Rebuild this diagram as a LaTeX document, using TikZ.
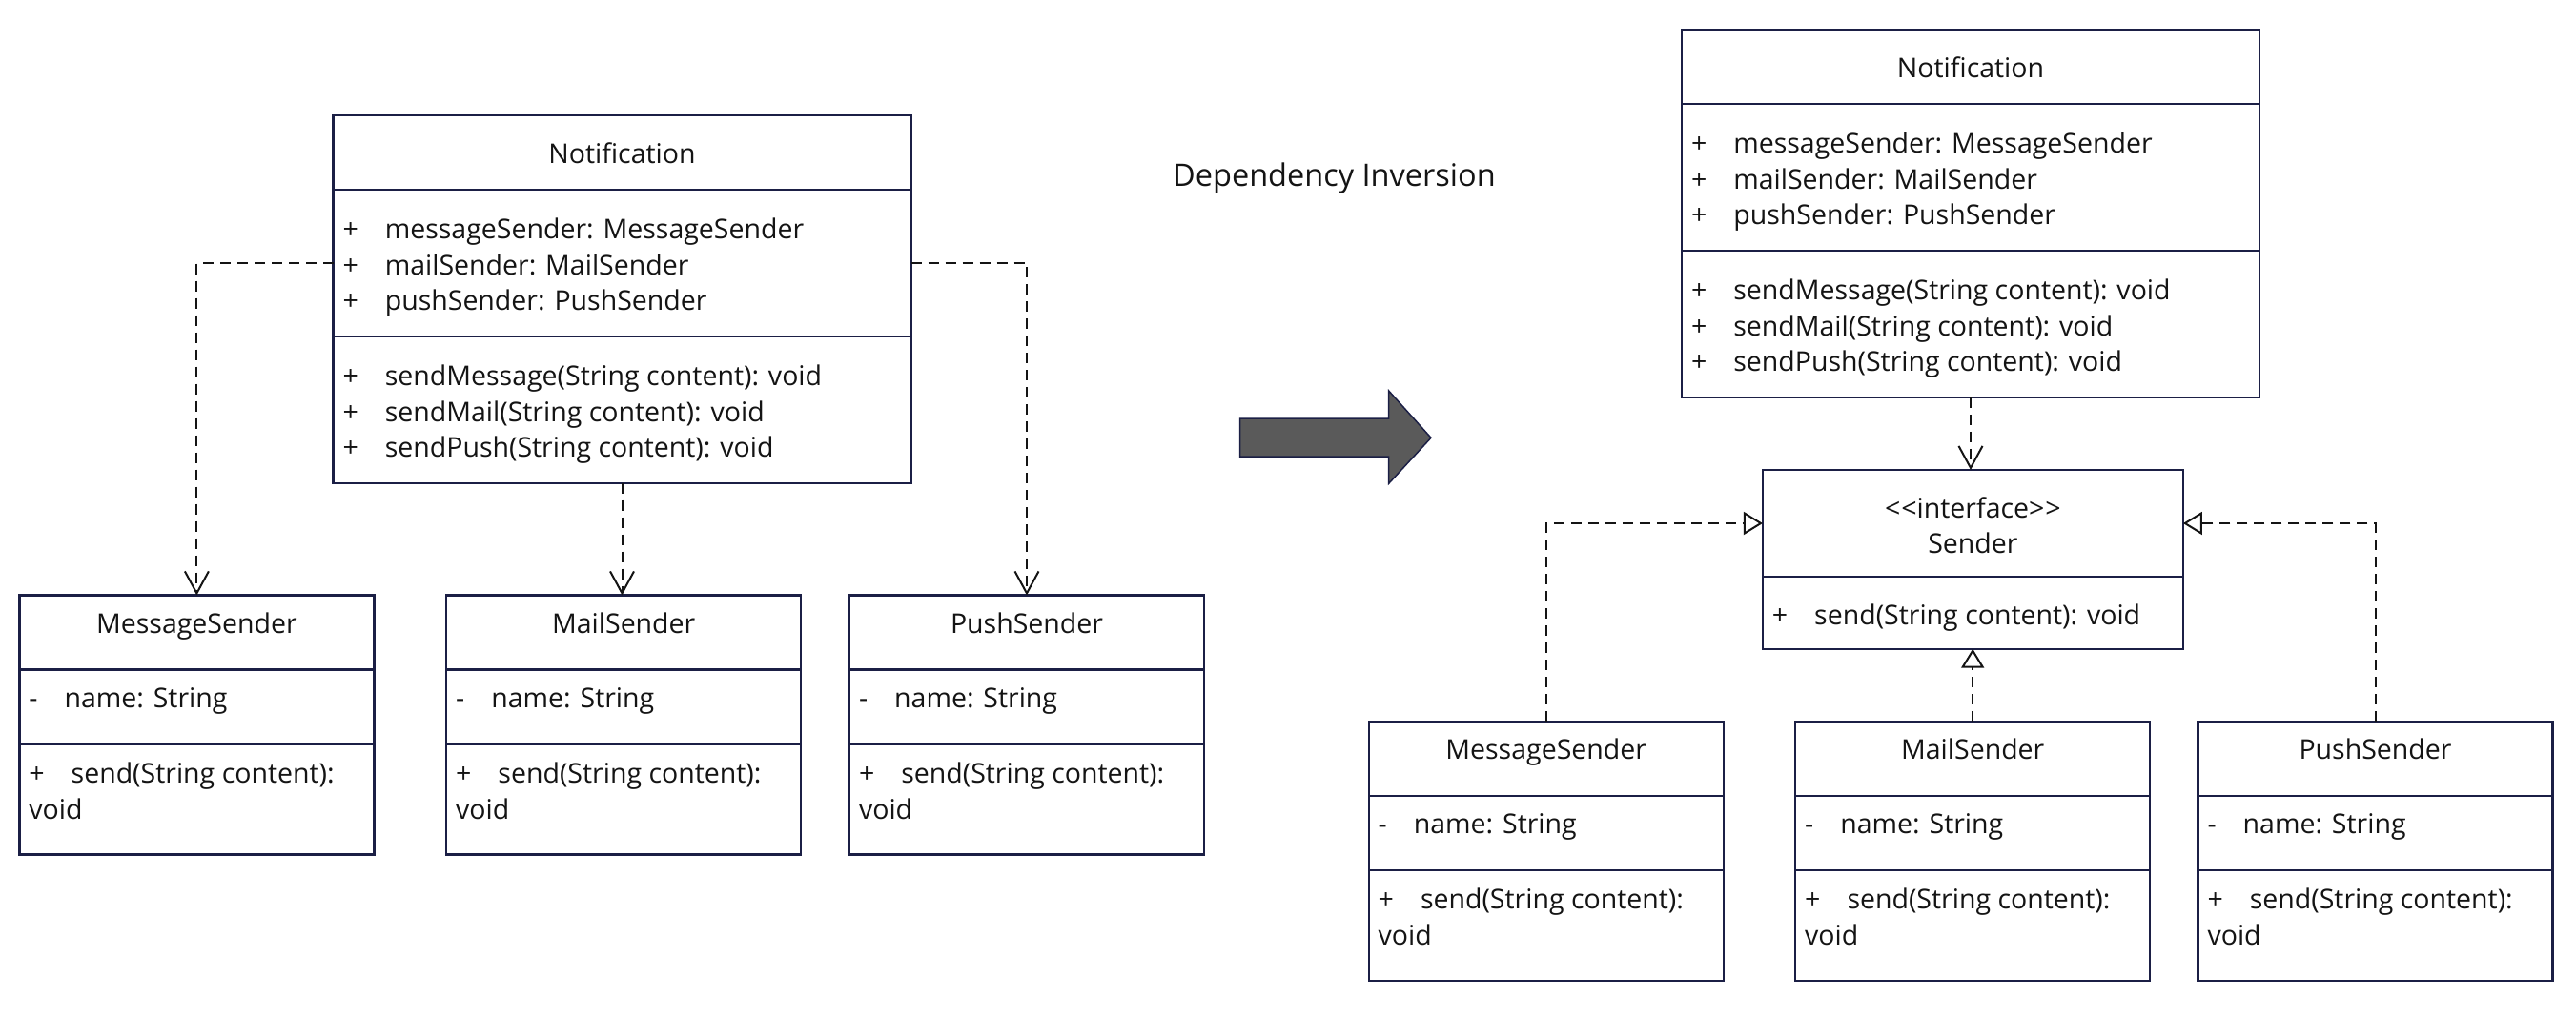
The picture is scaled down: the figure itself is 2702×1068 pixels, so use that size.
\documentclass[tikz,border=0pt]{standalone}
\usepackage{fontspec}
\setmainfont{Open Sans}
\usetikzlibrary{positioning,arrows.meta}

\definecolor{umlnavy}{HTML}{1B1F45}
\definecolor{umlink}{HTML}{141414}
\definecolor{arrowgray}{HTML}{5A5A5A}
\newcommand\mgap{\hspace{28pt}}
\newcommand\umlstrut{\rule{0pt}{25pt}}

\tikzset{
  compart/.style={draw=umlnavy, line width=2.3pt, inner sep=0pt, outer sep=0pt, fill=white},
  big/.style={compart, minimum width=606pt},
  small/.style={compart, minimum width=372pt},
  member/.style={inner sep=0pt, outer sep=0pt, align=left, text=umlink,
    font=\fontsize{28.5}{37.5}\selectfont},
  clstitle/.style={member, align=center},
  depends/.style={draw=umlink, line width=2pt, dash pattern=on 11pt off 7pt,
    -{Straight Barb[length=23pt,width=25pt]}},
  realizes/.style={draw=umlink, line width=2pt, dash pattern=on 11pt off 7pt,
    -{Triangle[open,length=20pt,width=24pt,fill=white]}},
}

\begin{document}
\begin{tikzpicture}[x=1pt,y=-1pt]
    \fill[white] (0,0) rectangle (2702,1068);
    \useasboundingbox (0,0) rectangle (2702,1068);

    % before: Notification and the three senders
    \node[big, minimum height=78pt] (nl-head) at (652.5,159.7) {};
    \node[big, minimum height=154pt, below=0pt of nl-head] (nl-attr) {};
    \node[big, minimum height=154pt, below=0pt of nl-attr] (nl-ops) {};
    \node[clstitle, below=26pt of nl-head.north] (nl-name) {\umlstrut Notification};
    \node[member, below right=27pt and 10pt of nl-attr.north west] (nl-fields)
        {\umlstrut+\mgap messageSender: MessageSender\\+\mgap mailSender: MailSender\\+\mgap pushSender: PushSender};
    \node[member, below right=27pt and 10pt of nl-ops.north west] (nl-methods)
        {\umlstrut+\mgap sendMessage(String content): void\\+\mgap sendMail(String content): void\\+\mgap sendPush(String content): void};

    \node[small, minimum height=78pt] (ms-head) at (206.4,663.5) {};
    \node[small, minimum height=78pt, below=0pt of ms-head] (ms-attr) {};
    \node[small, minimum height=116pt, below=0pt of ms-attr] (ms-ops) {};
    \node[clstitle, below=15pt of ms-head.north] (ms-name) {\umlstrut MessageSender};
    \node[member, below right=15pt and 10pt of ms-attr.north west] (ms-fields) {\umlstrut-\mgap name: String};
    \node[member, below right=16pt and 10pt of ms-ops.north west] (ms-methods) {\umlstrut+\mgap send(String content):\\void};

    \node[small, minimum height=78pt] (ml-head) at (654.2,663.5) {};
    \node[small, minimum height=78pt, below=0pt of ml-head] (ml-attr) {};
    \node[small, minimum height=116pt, below=0pt of ml-attr] (ml-ops) {};
    \node[clstitle, below=15pt of ml-head.north] (ml-name) {\umlstrut MailSender};
    \node[member, below right=15pt and 10pt of ml-attr.north west] (ml-fields) {\umlstrut-\mgap name: String};
    \node[member, below right=16pt and 10pt of ml-ops.north west] (ml-methods) {\umlstrut+\mgap send(String content):\\void};

    \node[small, minimum height=78pt] (ps-head) at (1077,663.5) {};
    \node[small, minimum height=78pt, below=0pt of ps-head] (ps-attr) {};
    \node[small, minimum height=116pt, below=0pt of ps-attr] (ps-ops) {};
    \node[clstitle, below=15pt of ps-head.north] (ps-name) {\umlstrut PushSender};
    \node[member, below right=15pt and 10pt of ps-attr.north west] (ps-fields) {\umlstrut-\mgap name: String};
    \node[member, below right=16pt and 10pt of ps-ops.north west] (ps-methods) {\umlstrut+\mgap send(String content):\\void};

    \draw[depends] (nl-attr.west) -| (ms-head.north);
    \draw[depends] (nl-attr.east) -| (ps-head.north);
    \draw[depends] (nl-ops.south) -- (nl-ops.south |- ml-head.north);

    % heading and big arrow
    \node[anchor=base west, inner sep=0pt, text=umlink, font=\fontsize{32.5}{38}\selectfont] (heading)
        at (1230,195) {Dependency Inversion};
    \filldraw[fill=arrowgray, draw=umlnavy, line width=1.5pt] (1300.7,439) -- (1456.7,439) -- (1456.7,410)
        -- (1501,459.3) -- (1456.7,507.3) -- (1456.7,479) -- (1300.7,479) -- cycle;

    % after: Notification depends on the Sender interface
    \node[big, minimum height=78pt] (nr-head) at (2067,69.8) {};
    \node[big, minimum height=154pt, below=0pt of nr-head] (nr-attr) {};
    \node[big, minimum height=154pt, below=0pt of nr-attr] (nr-ops) {};
    \node[clstitle, below=26pt of nr-head.north] (nr-name) {\umlstrut Notification};
    \node[member, below right=27pt and 10pt of nr-attr.north west] (nr-fields)
        {\umlstrut+\mgap messageSender: MessageSender\\+\mgap mailSender: MailSender\\+\mgap pushSender: PushSender};
    \node[member, below right=27pt and 10pt of nr-ops.north west] (nr-methods)
        {\umlstrut+\mgap sendMessage(String content): void\\+\mgap sendMail(String content): void\\+\mgap sendPush(String content): void};

    \node[compart, minimum width=441pt, minimum height=112pt] (sd-head) at (2069.4,549) {};
    \node[compart, minimum width=441pt, minimum height=75.7pt, below=0pt of sd-head] (sd-ops) {};
    \node[clstitle, below=25pt of sd-head.north] (sd-name) {\umlstrut{<}\kern1pt{<}interface{>}\kern1pt{>}\\Sender};
    \node[member, below right=25pt and 10pt of sd-ops.north west] (sd-methods) {\umlstrut+\mgap send(String content): void};

    \node[small, minimum height=78pt] (msr-head) at (1621.7,795.8) {};
    \node[small, minimum height=78pt, below=0pt of msr-head] (msr-attr) {};
    \node[small, minimum height=116pt, below=0pt of msr-attr] (msr-ops) {};
    \node[clstitle, below=15pt of msr-head.north] (msr-name) {\umlstrut MessageSender};
    \node[member, below right=15pt and 10pt of msr-attr.north west] (msr-fields) {\umlstrut-\mgap name: String};
    \node[member, below right=16pt and 10pt of msr-ops.north west] (msr-methods) {\umlstrut+\mgap send(String content):\\void};

    \node[small, minimum height=78pt] (mlr-head) at (2069.2,795.8) {};
    \node[small, minimum height=78pt, below=0pt of mlr-head] (mlr-attr) {};
    \node[small, minimum height=116pt, below=0pt of mlr-attr] (mlr-ops) {};
    \node[clstitle, below=15pt of mlr-head.north] (mlr-name) {\umlstrut MailSender};
    \node[member, below right=15pt and 10pt of mlr-attr.north west] (mlr-fields) {\umlstrut-\mgap name: String};
    \node[member, below right=16pt and 10pt of mlr-ops.north west] (mlr-methods) {\umlstrut+\mgap send(String content):\\void};

    \node[small, minimum height=78pt] (psr-head) at (2491.5,795.8) {};
    \node[small, minimum height=78pt, below=0pt of psr-head] (psr-attr) {};
    \node[small, minimum height=116pt, below=0pt of psr-attr] (psr-ops) {};
    \node[clstitle, below=15pt of psr-head.north] (psr-name) {\umlstrut PushSender};
    \node[member, below right=15pt and 10pt of psr-attr.north west] (psr-fields) {\umlstrut-\mgap name: String};
    \node[member, below right=16pt and 10pt of psr-ops.north west] (psr-methods) {\umlstrut+\mgap send(String content):\\void};

    \draw[depends] (nr-ops.south) -- (nr-ops.south |- sd-head.north);
    \draw[realizes] (msr-head.north) |- (sd-head.west);
    \draw[realizes] (psr-head.north) |- (sd-head.east);
    \draw[realizes] (mlr-head.north) -- (mlr-head.north |- sd-ops.south);
\end{tikzpicture}
\end{document}
